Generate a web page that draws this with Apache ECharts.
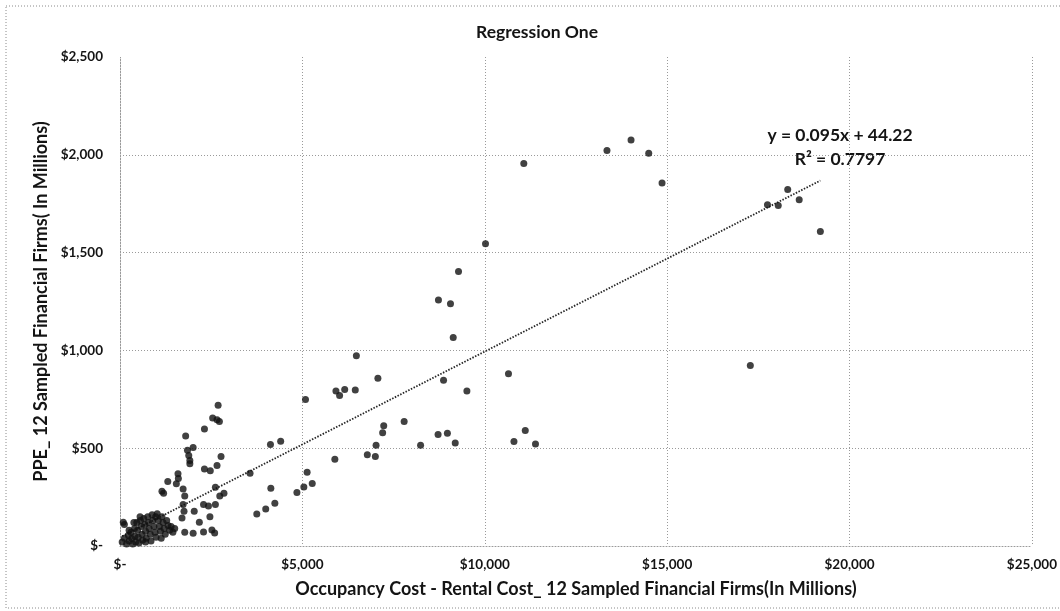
<!DOCTYPE html>
<html>
<head>
<meta charset="utf-8">
<script src="https://cdn.jsdelivr.net/npm/echarts@6/dist/echarts.min.js"></script>
<style>
  html, body { margin: 0; padding: 0; background: #ffffff; }
  #chart { width: 1060px; height: 611px; }
</style>
</head>
<body>
<div id="chart"></div>
<script>
// Occupancy cost (rental) vs. PPE, 12 sampled financial firms, $ millions
const occupancyCost = [
  90, 120, 60, 120, 180, 230, 250, 300, 320, 350, 400, 410, 430, 460, 480, 500, 520,
  560, 580, 600, 620, 650, 680, 700, 720, 760, 780, 800, 830, 850, 880, 900, 930,
  960, 990, 1020, 1050, 1080, 1110, 1150, 1180, 1210, 1240, 1280, 1320, 1360, 1400,
  1450, 1500, 980, 700, 550, 1130, 380, 250,
  1150, 1195, 1310, 1590, 1600, 1545, 1730, 1775, 1730, 1755, 1700, 1800, 2005, 1850,
  1885, 1915, 1915, 2690, 2540, 2660, 2725, 2315, 2770, 2315, 2475, 2660, 2615, 2735,
  2290, 2425, 2615, 2035, 2465, 2175, 1775, 2005, 2290, 2520, 2595, 2850,
  3565, 3750, 3995, 4245, 4135, 4125, 4405, 5085, 5130, 5270, 5040, 4850, 5890, 5920,
  6020, 6160, 6450, 6480, 7070, 6780, 7000, 7020, 7200, 7230, 7790, 8240, 8720, 8975,
  9190, 8870, 9510, 9060, 9135, 10650, 10800, 11110, 9280, 8730, 11070, 10020, 13350,
  14010, 14495, 14860, 17750, 18045, 18305, 18620, 19200, 17280, 11390
];
const ppe = [
  121, 110, 20, 40, 10, 55, 25, 70, 38, 10, 90, 50, 20, 120, 80, 45, 15,
  130, 100, 60, 30, 140, 110, 75, 40, 150, 120, 90, 60, 25, 160, 130, 100,
  70, 45, 165, 130, 100, 75, 150, 120, 90, 60, 130, 105, 80, 100,
  70, 90, 150, 20, 150, 40, 120, 80,
  280, 270, 330, 370, 345, 318, 292, 256, 212, 178, 143, 562, 503, 489,
  463, 437, 420, 720, 655, 645, 636, 598, 458, 394, 385, 411, 300, 255,
  212, 204, 212, 178, 150, 122, 70, 65, 72, 82, 67, 270,
  372, 164, 189, 218, 295, 519, 536, 749, 377, 319, 302, 273, 444, 792,
  770, 800, 797, 973, 858, 466, 458, 515, 579, 615, 636, 515, 570, 576,
  527, 847, 792, 1238, 1066, 880, 534, 590, 1403, 1258, 1955, 1545, 2022,
  2076, 2008, 1856, 1744, 1741, 1822, 1770, 1608, 923, 521
];

// Linear trend as reported on the chart
const trendSlope = 0.095;
const trendIntercept = 44.22;
const rSquared = 0.7797;

const xTickLabels = ['$-', '$5,000', '$10,000', '$15,000', '$20,000', '$25,000'];
const yTickLabels = ['$-', '$500', '$1,000', '$1,500', '$2,000', '$2,500'];

const X_STEP = 5000;
const Y_STEP = 500;
const FONT = 'Lato';
const INK = '#141414';

const points = occupancyCost.map((x, i) => [x, ppe[i]]);
const xMin = Math.min(...occupancyCost);
const xMax = Math.max(...occupancyCost);
const trendLine = [
  [xMin, trendSlope * xMin + trendIntercept],
  [xMax, trendSlope * xMax + trendIntercept]
];

const gridDots = { color: '#9a9a9a', width: 1, type: [1, 2] };

const chart = echarts.init(document.getElementById('chart'), null, { renderer: 'canvas' });
chart.setOption({
  animation: false,
  backgroundColor: '#ffffff',
  title: {
    text: 'Regression One',
    left: 532,
    top: 18,
    textAlign: 'center',
    textStyle: { fontFamily: FONT, fontWeight: 'bold', fontSize: 17.5, color: INK }
  },
  grid: { left: 120, right: 25, top: 57, bottom: 65, containLabel: false },
  xAxis: {
    type: 'value',
    min: 0,
    max: 25000,
    interval: X_STEP,
    name: 'Occupancy Cost - Rental Cost_ 12 Sampled Financial Firms(In Millions)',
    nameLocation: 'middle',
    nameGap: 34,
    nameTextStyle: { fontFamily: FONT, fontWeight: 'bold', fontSize: 18, color: INK },
    axisLine: { show: true, lineStyle: gridDots },
    axisTick: { show: false },
    axisLabel: {
      margin: 12,
      fontFamily: FONT, fontWeight: 'bold', fontSize: 13.5, color: INK,
      formatter: v => xTickLabels[Math.round(v / X_STEP)]
    },
    splitLine: { show: true, lineStyle: gridDots }
  },
  yAxis: {
    type: 'value',
    min: 0,
    max: 2500,
    interval: Y_STEP,
    name: 'PPE_ 12 Sampled Financial Firms( In Millions)',
    nameLocation: 'middle',
    nameGap: 66,
    nameTextStyle: { fontFamily: FONT, fontWeight: 'bold', fontSize: 18, color: INK },
    axisLine: { show: true, lineStyle: gridDots },
    axisTick: { show: false },
    axisLabel: {
      margin: 17,
      fontFamily: FONT, fontWeight: 'bold', fontSize: 13.5, color: INK,
      formatter: v => yTickLabels[Math.round(v / Y_STEP)]
    },
    splitLine: { show: true, showMaxLine: false, lineStyle: gridDots }
  },
  series: [
    {
      name: 'PPE',
      type: 'scatter',
      data: points,
      symbol: 'circle',
      symbolSize: 7,
      itemStyle: { color: '#111111' },
      z: 3
    },
    {
      name: 'Linear trend',
      type: 'line',
      data: trendLine,
      showSymbol: false,
      symbol: 'none',
      lineStyle: { color: '#262626', width: 1.8, type: [1.5, 1.5] },
      z: 2
    }
  ],
  graphic: [
    {
      type: 'rect',
      shape: { x: 6, y: 6, width: 1100, height: 602 },
      style: { fill: null, stroke: '#8a8a8a', lineWidth: 1, lineDash: [1, 2] },
      silent: true
    },
    {
      type: 'text',
      x: 840, y: 135,
      style: {
        text: 'y = ' + trendSlope + 'x + ' + trendIntercept,
        font: 'bold 17.5px ' + FONT, fill: INK, align: 'center', verticalAlign: 'middle'
      }
    },
    {
      type: 'text',
      x: 840, y: 159,
      style: {
        text: 'R² = ' + rSquared,
        font: 'bold 17.5px ' + FONT, fill: INK, align: 'center', verticalAlign: 'middle'
      }
    }
  ]
});
</script>
</body>
</html>
